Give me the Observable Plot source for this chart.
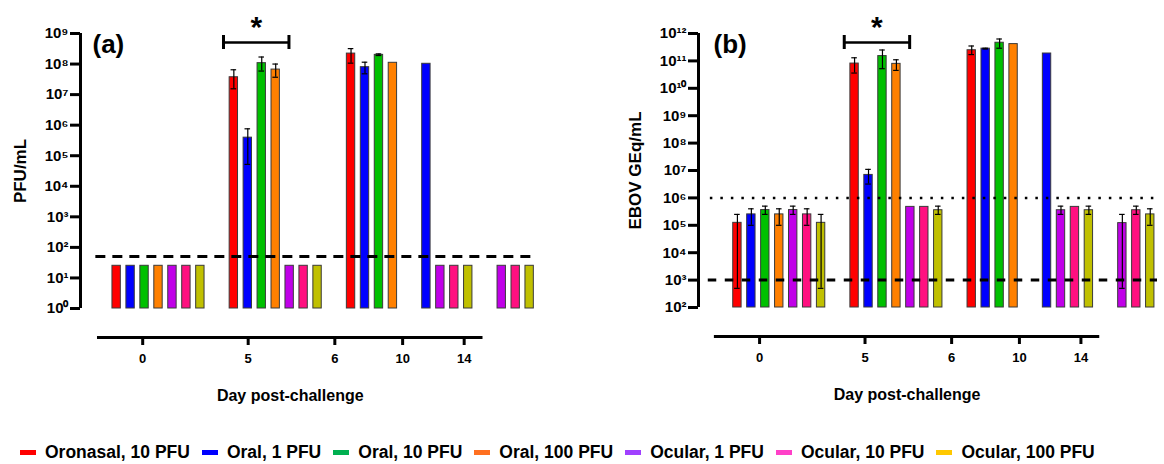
<!DOCTYPE html>
<html><head><meta charset="utf-8">
<script src="https://cdn.jsdelivr.net/npm/d3@7"></script>
<script src="https://cdn.jsdelivr.net/npm/@observablehq/plot@0.6"></script>
<style>
body{margin:0;background:#fff;font-family:"Liberation Sans",Arial,sans-serif;}
#row{display:flex;width:1164px;height:440px;}
#legend{display:flex;align-items:center;height:24px;padding-left:20px;font-weight:bold;font-size:17.5px;white-space:nowrap;color:#000;}
.it{display:flex;align-items:center;margin-right:12px;}
.sw{display:inline-block;width:16px;height:5px;margin-right:9px;}
</style></head><body>
<div id="row"></div><div id="legend"></div>
<script>
// ---- data ----
const days = ["0", "5", "6", "10", "14"];
const groups = ["Oronasal, 10 PFU", "Oral, 1 PFU", "Oral, 10 PFU", "Oral, 100 PFU", "Ocular, 1 PFU", "Ocular, 10 PFU", "Ocular, 100 PFU"];
const barColors = ["#ff0000", "#0000ff", "#00c000", "#ff8000", "#c000e8", "#ff1080", "#c0c000"];
const legendColors = ["#ff0000", "#0000ff", "#00b050", "#ff7020", "#a040ff", "#ff40c8", "#ffc800"];

// (a) infectious virus, PFU/mL — rows: groups, columns: days (null = no sample)
const pfuMean = [
  [25, 3.7e7, 2.2e8, null, null],
  [25, 3.9e5, 7.9e7, 1.02e8, null],
  [25, 1.07e8, 2.0e8, null, null],
  [25, 6.6e7, 1.1e8, null, null],
  [25, 25, null, 25, 25],
  [25, 25, null, 25, 25],
  [25, 25, null, 25, 25]
];
const pfuLow = [
  [null, 1.55e7, 1.07e8, null, null],
  [null, 5.2e4, 4.8e7, null, null],
  [null, 5.9e7, 1.9e8, null, null],
  [null, 3.7e7, null, null, null],
  [null, null, null, null, null],
  [null, null, null, null, null],
  [null, null, null, null, null]
];
const pfuHigh = [
  [null, 6.5e7, 3.2e8, null, null],
  [null, 7.6e5, 1.15e8, null, null],
  [null, 1.7e8, 2.15e8, null, null],
  [null, 1.0e8, null, null, null],
  [null, null, null, null, null],
  [null, null, null, null, null],
  [null, null, null, null, null]
];
// (b) EBOV GEq/mL
const geqMean = [
  [1.23e5, 8e10, 2.45e11, null, null],
  [2.5e5, 6.9e6, 2.8e11, 1.86e11, null],
  [3.6e5, 1.5e11, 4.6e11, null, null],
  [2.5e5, 7.8e10, 4.1e11, null, null],
  [3.6e5, 4.7e5, null, 3.55e5, 1.2e5],
  [2.5e5, 4.7e5, null, 4.7e5, 3.55e5],
  [1.23e5, 3.55e5, null, 3.55e5, 2.5e5]
];
const geqLow = [
  [500, 3.6e10, 1.7e11, null, null],
  [1e5, 3.2e6, 2.7e11, null, null],
  [2.5e5, 5.2e10, 2.9e11, null, null],
  [1e5, 4.5e10, null, null, null],
  [2.5e5, null, null, 2.5e5, 500],
  [1e5, null, null, null, 2.5e5],
  [500, 2.5e5, null, 2.5e5, 1e5]
];
const geqHigh = [
  [2.5e5, 1.3e11, 3.5e11, null, null],
  [4e5, 1.1e7, 2.9e11, null, null],
  [5e5, 2.5e11, 6.3e11, null, null],
  [4e5, 1.1e11, null, null, null],
  [5e5, null, null, 5e5, 2.5e5],
  [4e5, null, null, null, 5e5],
  [2.5e5, 5e5, null, 5e5, 4e5]
];
const pfuTicks = d3.range(0, 10).map(e => 10 ** e);
const geqTicks = d3.range(2, 13).map(e => 10 ** e);
const pfuLOD = 50;
const geqLOD = 1e3;
const geqThreshold = 1e6;

// ---- layout ----
const slotGap = 1.4, barW = 0.6, axisSqueeze = 0.9;
const SUP = "⁰¹²³⁴⁵⁶⁷⁸⁹";
const sup = d => "10" + String(Math.round(Math.log10(d))).split("").map(c => SUP[+c]).join("");
const FONT = "'Liberation Sans', Arial, sans-serif";

function layout(mean, low, high) {
  const bars = [], gpos = [];
  let s = 0;
  days.forEach((day, j) => {
    const start = s;
    groups.forEach((g, i) => {
      const v = mean[i][j];
      if (v == null) return;
      bars.push({day, group: g, x1: s, x2: s + barW, xc: s + barW / 2, value: v, lo: low[i][j], hi: high[i][j]});
      s += 1;
    });
    gpos.push({day, first: start, last: s - 1});
    s += slotGap;
  });
  return {bars, gpos};
}

function panel(o) {
  const {bars, gpos} = layout(o.mean, o.low, o.high);
  const width = 582, height = 440;
  const xs = Plot.scale({x: {domain: o.xDomain, range: [o.marginLeft, width - o.marginRight]}});
  const squeeze = u => xs.invert(axisSqueeze * xs.apply(u));
  const ticks = gpos.map(g => ({label: g.day, u: squeeze((g.first + g.last + barW) / 2)}));
  const lineStart = squeeze(bars[0].x1 - 0.3), lineEnd = squeeze(bars[bars.length - 1].x2 + 0.2);
  const d5 = gpos[1].first;
  const brStart = d5 - 0.44, brEnd = d5 + 4.25;
  const [yMin, yMax] = o.yDomain;
  const errs = bars.filter(b => b.lo != null);
  return Plot.plot({
    width, height, marginTop: 33, marginBottom: o.marginBottom, marginLeft: o.marginLeft, marginRight: o.marginRight,
    style: {fontFamily: FONT, color: "#000", background: "#fff", overflow: "visible"},
    x: {domain: o.xDomain, axis: null},
    y: {type: "log", domain: o.yDomain, axis: null},
    color: {domain: groups, range: barColors},
    marks: [
      Plot.rect(bars, {x1: "x1", x2: "x2", y1: () => yMin, y2: "value", fill: "group", stroke: "#3a3a3a", strokeWidth: 1}),
      ...o.lines.map(l => Plot.ruleY([l.value], {x1: o.xDomain[0] + l.start, x2: o.xDomain[1], stroke: "#000", strokeWidth: l.w, strokeDasharray: l.dash})),
      Plot.ruleX(errs, {x: "xc", y1: "lo", y2: "hi", strokeWidth: 1.2}),
      Plot.ruleY(errs, {y: "hi", x1: d => d.xc - 0.2, x2: d => d.xc + 0.2, strokeWidth: 1.2}),
      Plot.ruleY(errs, {y: "lo", x1: d => d.xc - 0.2, x2: d => d.xc + 0.2, strokeWidth: 1.2}),
      // y axis
      Plot.ruleX([o.xDomain[0]], {y1: yMin, y2: yMax, strokeWidth: 3}),
      Plot.ruleY(o.yTicks, {x1: o.xDomain[0], x2: o.xDomain[0], insetLeft: -10, strokeWidth: 3}),
      Plot.text(o.yTicks, {y: d => d, text: sup, frameAnchor: "left", textAnchor: "end", lineAnchor: "middle", dx: -12, fontSize: 15, fontWeight: "bold"}),
      Plot.text([o.yLabel], {frameAnchor: "left", textAnchor: "middle", lineAnchor: "middle", rotate: -90, dx: o.yLabelDx, fontSize: 17, fontWeight: "bold"}),
      // x axis (drawn below the plot)
      Plot.ruleY([yMin], {x1: lineStart, x2: lineEnd, dy: 29, strokeWidth: 3}),
      Plot.ruleX(ticks, {x: "u", y1: () => yMin, y2: () => yMin, dy: 29, insetBottom: -8, strokeWidth: 3}),
      Plot.text(ticks, {x: "u", text: "label", frameAnchor: "bottom", lineAnchor: "middle", dy: 50, fontSize: 13, fontWeight: "bold"}),
      Plot.text(["Day post-challenge"], {x: () => (lineStart + lineEnd) / 2, frameAnchor: "bottom", lineAnchor: "middle", dy: 87, fontSize: 16, fontWeight: "bold"}),
      // panel tag
      Plot.text([o.tag], {frameAnchor: "top-left", dx: o.tagDx, dy: 1, fontSize: 26, fontWeight: "bold"}),
      // significance bracket
      Plot.ruleY([yMax], {x1: brStart, x2: brEnd, dy: 9, strokeWidth: 2.5}),
      Plot.ruleX([brStart, brEnd], {y1: () => yMax, y2: () => yMax, insetTop: 2, insetBottom: -16, strokeWidth: 3}),
      Plot.text(["*"], {x: () => (brStart + brEnd) / 2, frameAnchor: "top", lineAnchor: "bottom", dy: 3, fontSize: 30, fontWeight: "bold"})
    ]
  });
}

const row = document.getElementById("row");
row.append(panel({
  mean: pfuMean, low: pfuLow, high: pfuHigh, yDomain: [1, 1e9], yTicks: pfuTicks,
  lines: [{value: pfuLOD, dash: "10,7", w: 3, start: 1.1}],
  yLabel: "PFU/mL", yLabelDx: -60, tag: "(a)", tagDx: 12,
  xDomain: [-2.29, 30.32], marginLeft: 80, marginRight: 47, marginBottom: 132
}));
row.append(panel({
  mean: geqMean, low: geqLow, high: geqHigh, yDomain: [1e2, 1e12], yTicks: geqTicks,
  lines: [{value: geqThreshold, dash: "2.5,8", w: 2.5, start: 0.85}, {value: geqLOD, dash: "8.5,8.5", w: 3, start: 0.7}],
  yLabel: "EBOV GEq/mL", yLabelDx: -63, tag: "(b)", tagDx: 15,
  xDomain: [-2.49, 30.42], marginLeft: 116, marginRight: 7, marginBottom: 133
}));

const legend = document.getElementById("legend");
groups.forEach((g, i) => {
  const it = document.createElement("span");
  it.className = "it";
  const sw = document.createElement("span");
  sw.className = "sw";
  sw.style.background = legendColors[i];
  it.append(sw, document.createTextNode(g));
  legend.append(it);
});
</script>
</body></html>
